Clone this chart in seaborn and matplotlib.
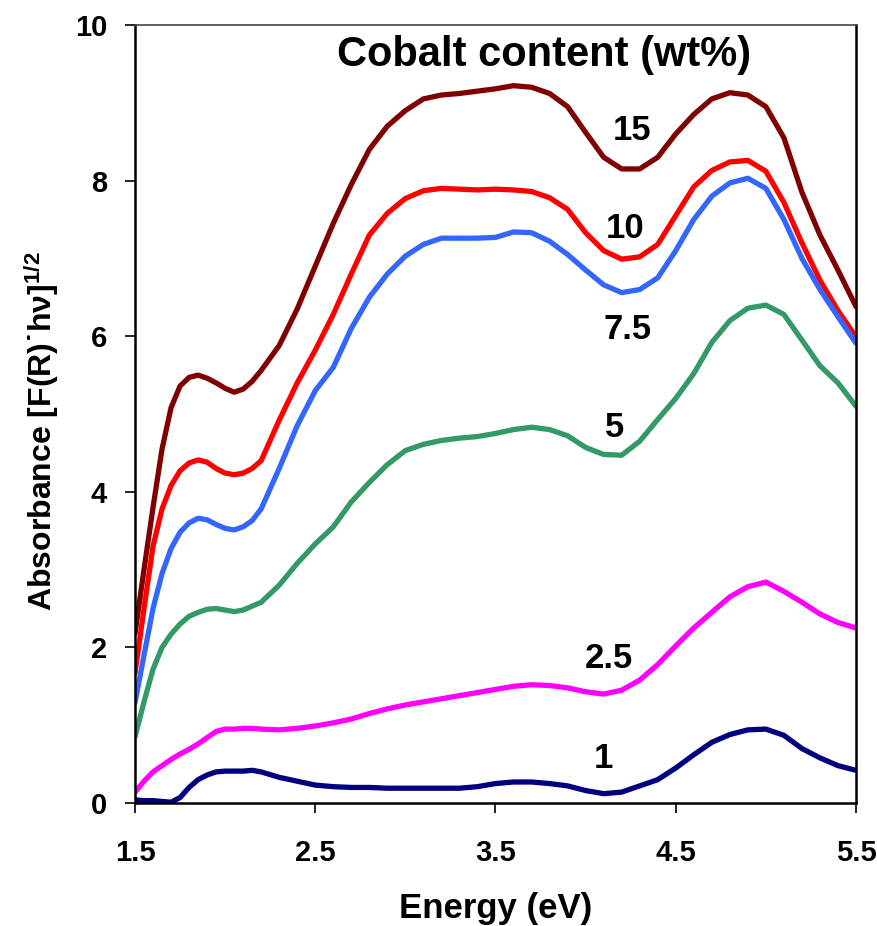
import matplotlib
matplotlib.use("Agg")
import matplotlib.pyplot as plt
import seaborn as sns
import pandas as pd

energy = [1.5, 1.55, 1.6, 1.65, 1.7, 1.75, 1.8, 1.85, 1.9, 1.95, 2.0, 2.05, 2.1, 2.15, 2.2,
          2.3, 2.4, 2.5, 2.6, 2.7, 2.8, 2.9, 3.0, 3.1, 3.2, 3.3, 3.4, 3.5, 3.6, 3.7, 3.8, 3.9,
          4.0, 4.1, 4.2, 4.3, 4.4, 4.5, 4.6, 4.7, 4.8, 4.9, 5.0, 5.1, 5.2, 5.3, 5.4, 5.5]

co_15 = [2.18, 3.0, 3.8, 4.55, 5.08, 5.36, 5.47, 5.5, 5.46, 5.4, 5.33, 5.28, 5.32, 5.42, 5.56,
         5.88, 6.35, 6.9, 7.45, 7.95, 8.4, 8.7, 8.9, 9.05, 9.1, 9.12, 9.15, 9.18, 9.22, 9.2, 9.12, 8.95,
         8.62, 8.3, 8.15, 8.15, 8.3, 8.6, 8.85, 9.05, 9.13, 9.1, 8.95, 8.55, 7.85, 7.3, 6.85, 6.38]
co_10 = [1.67, 2.5, 3.3, 3.78, 4.08, 4.27, 4.37, 4.41, 4.38, 4.3, 4.24, 4.22, 4.24, 4.3, 4.4,
         4.92, 5.4, 5.82, 6.28, 6.8, 7.3, 7.58, 7.77, 7.87, 7.9, 7.89, 7.88, 7.89, 7.88, 7.86, 7.78, 7.63,
         7.33, 7.1, 6.99, 7.02, 7.18, 7.55, 7.92, 8.13, 8.24, 8.26, 8.12, 7.72, 7.2, 6.72, 6.33, 5.99]
co_7_5 = [1.29, 1.9, 2.5, 2.95, 3.27, 3.48, 3.6, 3.66, 3.64, 3.58, 3.53, 3.51, 3.55, 3.63, 3.78,
          4.3, 4.85, 5.3, 5.6, 6.1, 6.5, 6.8, 7.03, 7.18, 7.26, 7.26, 7.26, 7.27, 7.34, 7.33, 7.22, 7.05,
          6.85, 6.66, 6.56, 6.6, 6.75, 7.1, 7.5, 7.8, 7.97, 8.03, 7.9, 7.5, 7.0, 6.6, 6.25, 5.91]
co_5 = [0.85, 1.3, 1.72, 2.0, 2.17, 2.3, 2.4, 2.45, 2.49, 2.5, 2.48, 2.46, 2.48, 2.53, 2.58,
        2.8, 3.08, 3.33, 3.55, 3.87, 4.12, 4.35, 4.53, 4.61, 4.66, 4.69, 4.71, 4.75, 4.8, 4.83, 4.8, 4.72,
        4.57, 4.48, 4.47, 4.65, 4.93, 5.2, 5.52, 5.92, 6.2, 6.36, 6.4, 6.28, 5.95, 5.62, 5.4, 5.1]
co_2_5 = [0.14, 0.28, 0.4, 0.48, 0.56, 0.63, 0.69, 0.76, 0.84, 0.92, 0.95, 0.95, 0.96, 0.96, 0.95,
          0.94, 0.96, 0.99, 1.03, 1.08, 1.15, 1.21, 1.26, 1.3, 1.34, 1.38, 1.42, 1.46, 1.5, 1.52, 1.51, 1.48,
          1.43, 1.4, 1.45, 1.58, 1.78, 2.02, 2.25, 2.45, 2.65, 2.78, 2.84, 2.72, 2.58, 2.43, 2.32, 2.25]
co_1 = [0.04, 0.03, 0.03, 0.02, 0.01, 0.07, 0.2, 0.3, 0.36, 0.4, 0.41, 0.41, 0.41, 0.42, 0.4,
        0.33, 0.28, 0.23, 0.21, 0.2, 0.2, 0.19, 0.19, 0.19, 0.19, 0.19, 0.21, 0.25, 0.27, 0.27, 0.25, 0.22,
        0.16, 0.12, 0.14, 0.22, 0.3, 0.45, 0.62, 0.78, 0.88, 0.94, 0.95, 0.87, 0.7, 0.58, 0.48, 0.42]

series_names = ["15", "10", "7.5", "5", "2.5", "1"]
series_values = [co_15, co_10, co_7_5, co_5, co_2_5, co_1]
colors = ["#800000", "#FF0000", "#3366FF", "#339966", "#FF00FF", "#000080"]
label_pos = [(4.26, 8.65), (4.22, 7.39), (4.23, 6.08), (4.16, 4.83), (4.13, 1.86), (4.1, 0.57)]
x_ticks = [1.5, 2.5, 3.5, 4.5, 5.5]
y_ticks = [0, 2, 4, 6, 8, 10]
title_text = "Cobalt content (wt%)"

rows = []
for name, vals in zip(series_names, series_values):
    for e, v in zip(energy, vals):
        rows.append({"Energy": e, "Abs": v, "Co": name})
df = pd.DataFrame(rows)

sns.set_style("ticks")
plt.rcParams["font.family"] = ["Liberation Sans", "DejaVu Sans"]
plt.rcParams["font.weight"] = "bold"
plt.rcParams["mathtext.default"] = "regular"
plt.rcParams["text.color"] = "black"
plt.rcParams["axes.labelcolor"] = "black"
plt.rcParams["xtick.color"] = "black"
plt.rcParams["ytick.color"] = "black"

fig = plt.figure(figsize=(8.78, 9.26), dpi=100)
ax = fig.add_axes([135 / 878, 1 - 803 / 926, (856 - 135) / 878, (803 - 25) / 926])

sns.lineplot(data=df, x="Energy", y="Abs", hue="Co", hue_order=series_names,
             palette=colors, estimator=None, sort=False, legend=False,
             linewidth=3.8, ax=ax)
for line in ax.get_lines():
    line.set_solid_joinstyle("round")
    line.set_solid_capstyle("round")

ax.set_xlim(1.5, 5.5)
ax.set_ylim(0, 10)
ax.set_xticks(x_ticks)
ax.set_xticklabels([f"{t:.1f}" for t in x_ticks])
ax.set_yticks(y_ticks)
ax.set_yticklabels([str(t) for t in y_ticks])
ax.tick_params(axis="x", direction="out", length=7, width=1.2, pad=19, labelsize=21,
               colors="black")
ax.tick_params(axis="y", direction="out", length=7, width=1.2, pad=13, labelsize=21,
               colors="black")
for lab in ax.get_xticklabels() + ax.get_yticklabels():
    lab.set_fontweight("bold")

for side in ["left", "bottom", "right"]:
    ax.spines[side].set_linewidth(1.8)
    ax.spines[side].set_color("black")
ax.spines["top"].set_linewidth(1.2)
ax.spines["top"].set_color("#444444")
ax.spines["top"].set_visible(True)
ax.spines["right"].set_visible(True)

ax.set_xlabel("Energy (eV)", fontsize=25, fontweight="bold", color="black")
ax.xaxis.set_label_coords(0.5, -0.115)
ax.set_ylabel("Absorbance [F(R)\u02d9h\u03bd]$^{1/2}$", fontsize=23, fontweight="bold",
              color="black")
ax.yaxis.set_label_coords(-0.103, 0.478)

ax.text(3.77, 9.61, title_text, fontsize=30, fontweight="bold", ha="center", va="center",
        color="black")
for name, (lx, ly) in zip(series_names, label_pos):
    ax.text(lx, ly, name, fontsize=25, fontweight="bold", ha="center", va="center",
            color="black")

fig.savefig("out.png", dpi=100)
